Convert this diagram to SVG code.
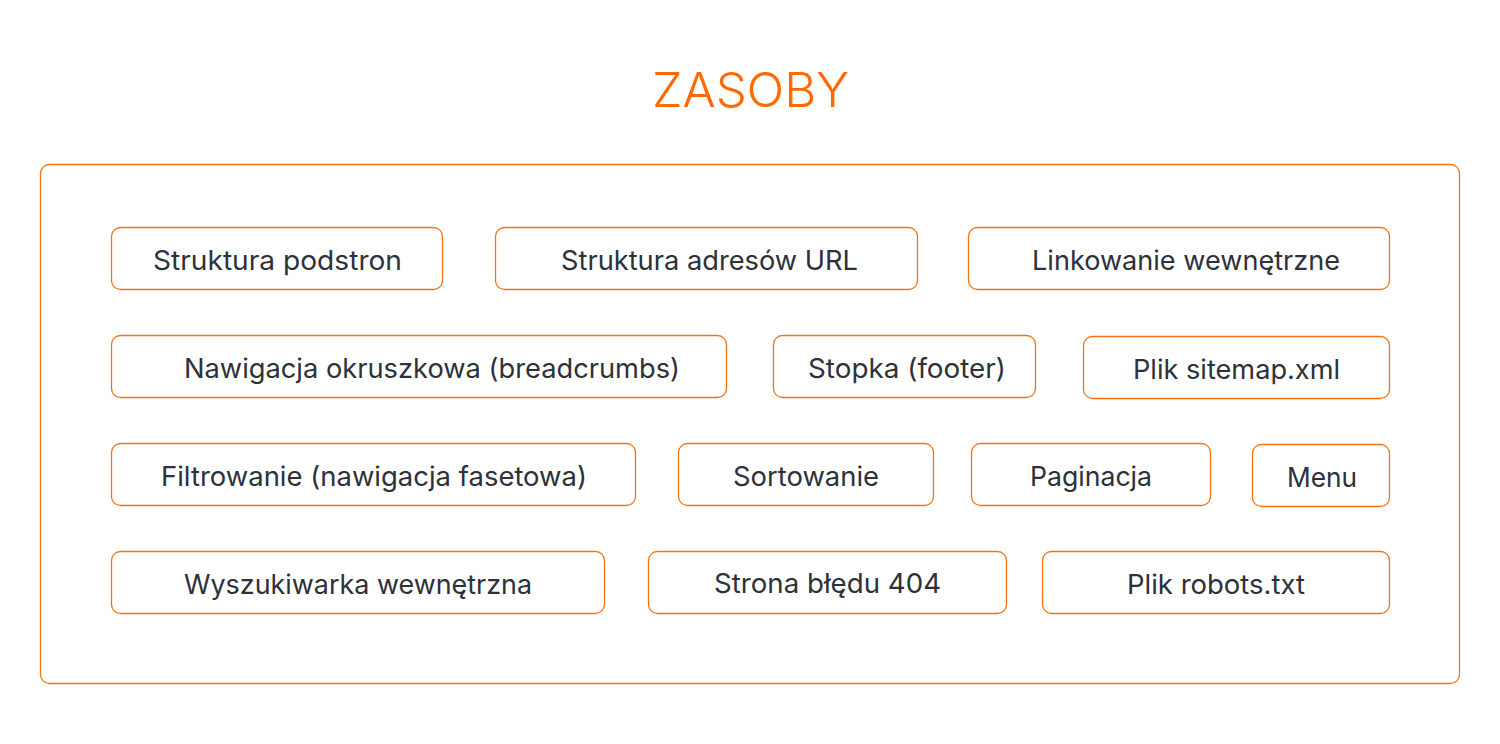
<svg xmlns="http://www.w3.org/2000/svg" width="1500" height="744" viewBox="0 0 1500 744">
<style>
.frame{fill:#fff;stroke:#F47216;stroke-width:1.3}
.box{fill:#fff;stroke:#F47216;stroke-width:1.3}
.lbl{font-family:Inter,"DejaVu Sans",sans-serif;font-size:27px;fill:#2D3139}
.title{font-family:Inter,"DejaVu Sans",sans-serif;font-size:48px;font-weight:300;fill:#FF6A00}
</style>
<rect width="1500" height="744" fill="#fff"/>
<text class="title" x="652" y="107" textLength="197" lengthAdjust="spacingAndGlyphs">ZASOBY</text>
<rect class="frame" x="40.5" y="164.5" width="1419" height="519" rx="9"/>
<g id="connectors"></g>
<g id="n1"><rect class="box" x="111.5" y="227.5" width="331" height="62" rx="9"/><text class="lbl" x="153" y="270" textLength="249" lengthAdjust="spacingAndGlyphs">Struktura podstron</text></g>
<g id="n2"><rect class="box" x="495.5" y="227.5" width="422" height="62" rx="9"/><text class="lbl" x="561" y="270" textLength="297" lengthAdjust="spacingAndGlyphs">Struktura adresów URL</text></g>
<g id="n3"><rect class="box" x="968.5" y="227.5" width="421" height="62" rx="9"/><text class="lbl" x="1032" y="270" textLength="308" lengthAdjust="spacingAndGlyphs">Linkowanie wewnętrzne</text></g>
<g id="n4"><rect class="box" x="111.5" y="335.5" width="615" height="62" rx="9"/><text class="lbl" x="184" y="378" textLength="496" lengthAdjust="spacingAndGlyphs">Nawigacja okruszkowa (breadcrumbs)</text></g>
<g id="n5"><rect class="box" x="773.5" y="335.5" width="262" height="62" rx="9"/><text class="lbl" x="808" y="378" textLength="198" lengthAdjust="spacingAndGlyphs">Stopka (footer)</text></g>
<g id="n6"><rect class="box" x="1083.5" y="336.5" width="306" height="62" rx="9"/><text class="lbl" x="1133" y="379" textLength="207" lengthAdjust="spacingAndGlyphs">Plik sitemap.xml</text></g>
<g id="n7"><rect class="box" x="111.5" y="443.5" width="524" height="62" rx="9"/><text class="lbl" x="161" y="486" textLength="426" lengthAdjust="spacingAndGlyphs">Filtrowanie (nawigacja fasetowa)</text></g>
<g id="n8"><rect class="box" x="678.5" y="443.5" width="255" height="62" rx="9"/><text class="lbl" x="733" y="486" textLength="146" lengthAdjust="spacingAndGlyphs">Sortowanie</text></g>
<g id="n9"><rect class="box" x="971.5" y="443.5" width="239" height="62" rx="9"/><text class="lbl" x="1030" y="486" textLength="122" lengthAdjust="spacingAndGlyphs">Paginacja</text></g>
<g id="n10"><rect class="box" x="1252.5" y="444.5" width="137" height="62" rx="9"/><text class="lbl" x="1287" y="487" textLength="70" lengthAdjust="spacingAndGlyphs">Menu</text></g>
<g id="n11"><rect class="box" x="111.5" y="551.5" width="493" height="62" rx="9"/><text class="lbl" x="184" y="594" textLength="348" lengthAdjust="spacingAndGlyphs">Wyszukiwarka wewnętrzna</text></g>
<g id="n12"><rect class="box" x="648.5" y="551.5" width="358" height="62" rx="9"/><text class="lbl" x="714" y="593" textLength="227" lengthAdjust="spacingAndGlyphs">Strona błędu 404</text></g>
<g id="n13"><rect class="box" x="1042.5" y="551.5" width="347" height="62" rx="9"/><text class="lbl" x="1127" y="594" textLength="178" lengthAdjust="spacingAndGlyphs">Plik robots.txt</text></g>
</svg>
